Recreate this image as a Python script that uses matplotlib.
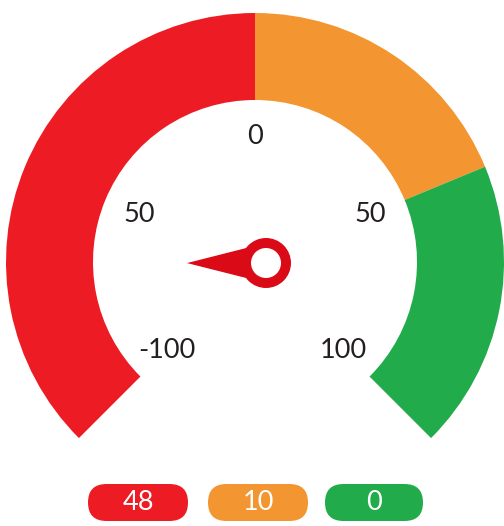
import numpy as np
import matplotlib
matplotlib.use("Agg")
import matplotlib.pyplot as plt
from matplotlib.patches import Wedge, Circle, Polygon, FancyBboxPatch

# ---- data ----
scale_min, scale_max = -100, 100
band_edges = [-100, 0, 50, 100]
band_colors = ["#ED1C24", "#F39530", "#22AB4B"]
tick_values = [-100, -50, 0, 50, 100]
tick_labels = ["-100", "50", "0", "50", "100"]
needle_value = -66.7
legend_values = ["48", "10", "0"]

plt.rcParams['font.family'] = ['Lato', 'DejaVu Sans']

W, H = 504, 526
fig = plt.figure(figsize=(W / 100, H / 100), dpi=100)
ax = fig.add_axes([0, 0, 1, 1])
ax.set_xlim(0, W)
ax.set_ylim(0, H)
ax.set_aspect('equal')
ax.axis('off')

cx, cy = 255, H - 262
r_out, r_in = 249, 162
a_start, a_end = 225, -45

def v2a(v):
    return a_start + (v - scale_min) / (scale_max - scale_min) * (a_end - a_start)

for i, col in enumerate(band_colors):
    t1 = v2a(band_edges[i + 1])
    t2 = v2a(band_edges[i])
    ax.add_patch(Wedge((cx, cy), r_out, t1, t2, width=r_out - r_in,
                       facecolor=col, edgecolor='none'))

r_lab = 125
for v, lab in zip(tick_values, tick_labels):
    a = np.radians(v2a(v))
    ax.text(cx + r_lab * np.cos(a), cy + r_lab * np.sin(a), lab,
            ha='center', va='center', fontsize=19.5, color='#231F20')

# needle
px, py = 266, H - 263
na = np.radians(v2a(needle_value))
L, w = 79, 20
tip = (px + L * np.cos(na), py + L * np.sin(na))
perp = (-np.sin(na), np.cos(na))
needle_col = "#DB0A17"
ax.add_patch(Polygon([tip, (px + w * perp[0], py + w * perp[1]),
                      (px - w * perp[0], py - w * perp[1])],
                     closed=True, facecolor=needle_col, edgecolor='none'))
ax.add_patch(Circle((px, py), 25, facecolor=needle_col, edgecolor='none'))
ax.add_patch(Circle((px, py), 15, facecolor='white', edgecolor='none'))

# legend pills
pill_x = [88, 208, 325]
pill_w = [100, 100, 98]
pill_y0, pill_h = H - 521, 37
for x0, pw, col, txt in zip(pill_x, pill_w, band_colors, legend_values):
    ax.add_patch(FancyBboxPatch((x0, pill_y0), pw, pill_h,
                                boxstyle=f"round,pad=0,rounding_size={pill_h/2}",
                                facecolor=col, edgecolor='none'))
    ax.text(x0 + pw / 2, pill_y0 + pill_h / 2, txt, ha='center', va='center',
            fontsize=19.5, color='white')

fig.savefig("out.png", dpi=100)
